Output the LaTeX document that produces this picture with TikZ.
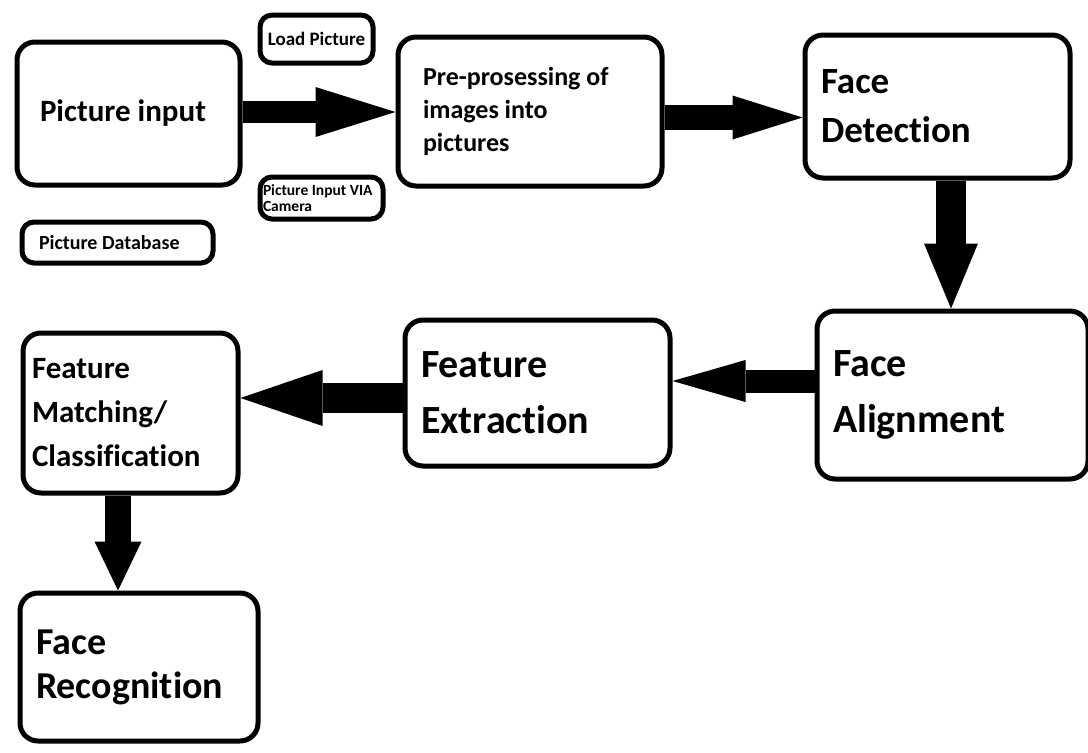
\documentclass[tikz,border=0pt]{standalone}
\usepackage{fontspec}
\setmainfont{Carlito}[Ligatures=NoCommon]
\usetikzlibrary{arrows.meta}
\tikzset{
  box/.style={draw=black, line width=5pt, rounded corners=18pt, fill=white,
    anchor=north west, align=flush left, font=\bfseries},
  smallbox/.style={box, rounded corners=12pt},
  fat/.style n args={3}{line width=#1,
    -{Triangle[length=#2, width=#3, line width=0pt]}},
}
\begin{document}
\begin{tikzpicture}[x=1pt, y=-1pt]
\useasboundingbox (0,0) rectangle (1088,753);

% processing stages
\node[box, minimum height=143pt, inner xsep=23pt, text width=177pt,
  font=\bfseries\fontsize{31}{37}\selectfont] (inp) at (14.5,39.5) {Picture input};
\node[box, minimum height=149pt, inner xsep=25pt, text width=214pt,
  font=\bfseries\fontsize{26}{33}\selectfont] (pre) at (395.5,34.5)
  {Pre-prosessing of\\images into\\pictures};
\node[box, minimum height=143pt, inner xsep=16pt, text width=233pt,
  font=\bfseries\fontsize{37}{49}\selectfont] (det) at (802.5,32.5) {Face\\Detection};
\node[box, minimum height=168pt, inner xsep=16pt, text width=239pt,
  font=\bfseries\fontsize{40}{56}\selectfont] (ali) at (814.5,308.5) {Face\\Alignment};
\node[box, minimum height=146pt, inner xsep=16pt, text width=233pt,
  font=\bfseries\fontsize{40}{56}\selectfont] (ext) at (402.5,317.5) {Feature\\Extraction};
\node[box, minimum height=160pt, inner xsep=9pt, text width=197pt,
  font=\bfseries\fontsize{31}{44}\selectfont] (mat) at (20.5,330.5)
  {Feature\\Matching/\\Classification};
\node[box, minimum height=148pt, inner xsep=16pt, text width=206pt,
  font=\bfseries\fontsize{38}{44}\selectfont] (rec) at (17.5,590.5) {Face\\Recognition};

% input sources
\node[smallbox, minimum height=48pt, minimum width=113pt, inner xsep=3pt, align=center,
  font=\bfseries\fontsize{19}{23}\selectfont] (load) at (257.5,12.5) {Load Picture};
\node[smallbox, minimum height=42pt, inner xsep=3pt, text width=117pt,
  font=\bfseries\fontsize{15.5}{16}\selectfont] (cam) at (257.5,174.5)
  {Picture Input VIA\\Camera};
\node[smallbox, minimum height=41pt, inner xsep=17pt, text width=157pt,
  font=\bfseries\fontsize{20}{24}\selectfont] (db) at (19.5,219.5) {Picture Database};

% arrow levels
\coordinate (r1) at (0,112);
\coordinate (r2) at (0,117.5);
\coordinate (c1) at (951,0);
\coordinate (r3) at (0,381);
\coordinate (r4) at (0,398);
\coordinate (c2) at (118,0);

% flow
\draw[fat={22pt}{80pt}{50pt}] (inp.east |- r1) -- (pre.west |- r1);
\draw[fat={25pt}{70pt}{44pt}] (pre.east |- r2) -- (det.west |- r2);
\draw[fat={30pt}{65pt}{54pt}] (det.south -| c1) -- (ali.north -| c1);
\draw[fat={23pt}{73pt}{42pt}] (ali.west |- r3) -- (ext.east |- r3);
\draw[fat={30pt}{82pt}{56pt}] (ext.west |- r4) -- (mat.east |- r4);
\draw[fat={26pt}{49pt}{47pt}] (mat.south -| c2) -- (rec.north -| c2);
\end{tikzpicture}
\end{document}
